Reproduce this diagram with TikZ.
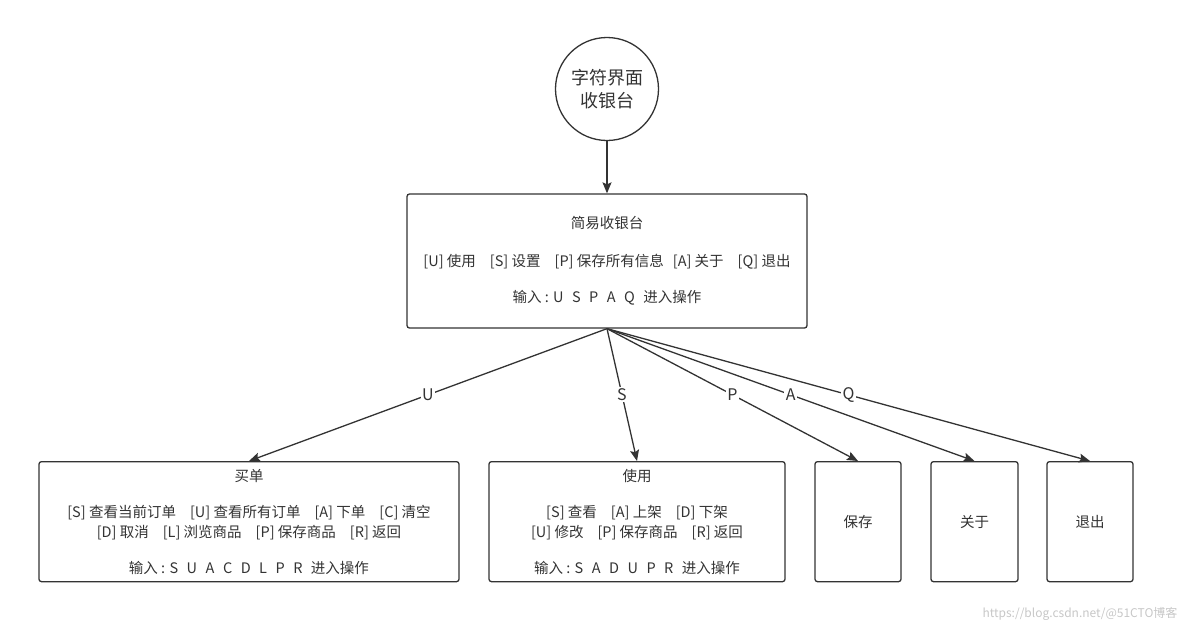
\documentclass[tikz,border=0pt]{standalone}
\usepackage{fontspec}
\setmainfont{Noto Sans CJK SC}
\usetikzlibrary{arrows.meta}
\definecolor{linegray}{HTML}{333333}
\tikzset{
  box/.style={draw=linegray, line width=1.3pt, rounded corners=2.5pt, align=center, inner sep=0pt, anchor=north, minimum height=120pt, text=linegray},
  arr/.style={draw=linegray, line width=1.3pt, -{Stealth[length=11pt, width=9pt, inset=2pt]}},
  lbl/.style={fill=white, inner sep=1.5pt, text=linegray, font=\fontsize{16}{18}\selectfont},
}

\begin{document}
\begin{tikzpicture}[x=1pt, y=-1pt]
      \def\boxtop{461}
      \def\ggap{\hspace{14pt}}
      \def\lgap{\hspace{8.5pt}}
      \useasboundingbox (0,0) rectangle (1184,630);

      %start
      \node[draw=linegray, line width=1.3pt, circle, minimum size=103pt, align=center, text=linegray, font=\fontsize{18}{23}\selectfont, name=ui] at (607,89) {字符界面\\收银台};

      %menu
      \node[draw=linegray, line width=1.3pt, rounded corners=2.5pt, minimum width=400pt, minimum height=134pt, align=center, text=linegray, font=\fontsize{14.5}{17}\selectfont, name=menu] at (607,261)
        {简易收银台\\[21pt]
         {[U]} 使用\ggap[S] 设置\ggap[P] 保存所有信息\hspace{9pt}[A] 关于\ggap[Q] 退出\\[19pt]
         输入 : U\lgap S\lgap P\lgap A\lgap Q\lgap 进入操作};

      %boxes
      \node[box, minimum width=420pt, font=\fontsize{14.5}{20}\selectfont, name=buy] at (249,\boxtop)
        {买单\\[16pt]
         {[S]} 查看当前订单\ggap[U] 查看所有订单\ggap[A] 下单\ggap[C] 清空\\
         {[D]} 取消\ggap[L] 浏览商品\ggap[P] 保存商品\ggap[R] 返回\\[16pt]
         输入 : S\lgap U\lgap A\lgap C\lgap D\lgap L\lgap P\lgap R\lgap 进入操作};
      \node[box, minimum width=296pt, font=\fontsize{14.5}{20}\selectfont, name=use] at (637,\boxtop)
        {使用\\[16pt]
         {[S]} 查看\ggap[A] 上架\ggap[D] 下架\\
         {[U]} 修改\ggap[P] 保存商品\ggap[R] 返回\\[16pt]
         输入 : S\lgap A\lgap D\lgap U\lgap P\lgap R\lgap 进入操作};
      \node[box, minimum width=86pt, font=\fontsize{14.5}{17}\selectfont, name=save ] at (858,\boxtop) {保存};
      \node[box, minimum width=87pt, font=\fontsize{14.5}{17}\selectfont, name=about] at (974.5,\boxtop) {关于};
      \node[box, minimum width=86pt, font=\fontsize{14.5}{17}\selectfont, name=quit ] at (1090,\boxtop) {退出};

      %arrows
      \draw[arr] (ui)         -- (menu);
      \draw[arr] (menu.south) -- (buy.north)   node[lbl, midway, name=lu] {U};
      \draw[arr] (menu.south) -- (use.north)   node[lbl, midway, name=ls] {S};
      \draw[arr] (menu.south) -- (save.north)  node[lbl, midway, name=lp] {P};
      \draw[arr] (menu.south) -- (about.north) node[lbl, midway, name=la] {A};
      \draw[arr] (menu.south) -- (quit.north)  node[lbl, midway, name=lq] {Q};

      %watermark
      \node[text=black!22, font=\fontsize{12}{14}\selectfont, name=mark] at (1080,614) {https://blog.csdn.net/@51CTO博客};
\end{tikzpicture}
\end{document}
